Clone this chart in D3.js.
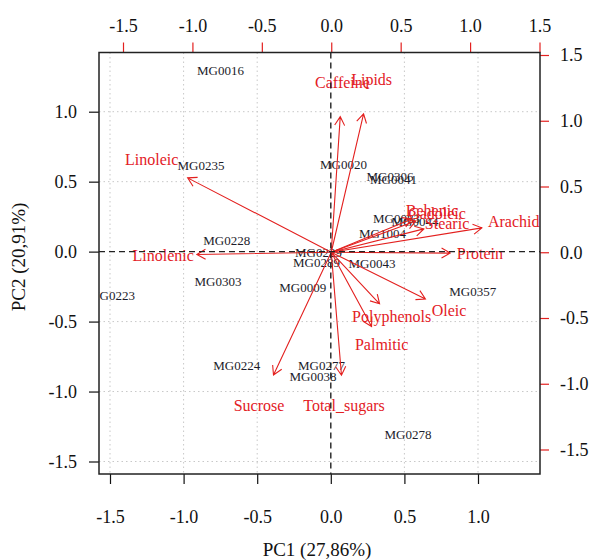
<!DOCTYPE html>
<html>
<head>
<meta charset="utf-8">
<script src="https://cdn.jsdelivr.net/npm/d3@7"></script>
<style>
  body { margin: 0; background: #fff; }
  svg text { font-family: "Liberation Serif", "DejaVu Serif", serif; }
</style>
</head>
<body>
<div id="chart"></div>
<script>
// scores (observations) - bottom / left axes
var obsNames = ["MG0016", "MG0235", "MG0020", "MG0306", "MG0041", "MG0083", "MG0044", "MG1004",
  "MG0228", "MG0229", "MG0289", "MG0043", "MG0303", "MG0009", "MG0223", "MG0357",
  "MG0224", "MG0277", "MG0038", "MG0278"];
var obsPC1 = [-0.749, -0.882, 0.086, 0.402, 0.426, 0.446, 0.572, 0.351,
  -0.707, -0.084, -0.097, 0.280, -0.766, -0.191, -1.490, 0.964,
  -0.639, -0.063, -0.121, 0.524];
var obsPC2 = [1.291, 0.619, 0.623, 0.537, 0.515, 0.240, 0.212, 0.131,
  0.083, -0.006, -0.079, -0.085, -0.215, -0.260, -0.317, -0.287,
  -0.816, -0.814, -0.889, -1.304];

// loadings (variables) - top / right axes
var varNames = ["Caffeine", "Lipids", "Linoleic", "Linolenic", "Behenic", "Gadoleic", "Stearic",
  "Arachidic", "Protein", "Oleic", "Polyphenols", "Palmitic", "Total_sugars", "Sucrose"];
var varPC1 = [0.081, 0.291, -1.293, -1.210, 0.726, 0.762, 0.834,
  1.356, 1.071, 0.848, 0.435, 0.363, 0.092, -0.520];
var varPC2 = [1.289, 1.315, 0.707, -0.021, 0.317, 0.298, 0.222,
  0.232, -0.008, -0.444, -0.490, -0.705, -1.169, -1.167];

var obsTicks = [-1.5, -1.0, -0.5, 0.0, 0.5, 1.0];
var varTicks = [-1.5, -1.0, -0.5, 0.0, 0.5, 1.0, 1.5];
var xTitle = "PC1 (27,86%)";
var yTitle = "PC2 (20,91%)";

var W = 591, H = 560;
var box = { left: 99, right: 540, top: 52.5, bottom: 474 };
var red = "#e3201f";

var xObs = d3.scaleLinear().domain([-1.5, 1.0]).range([110, 478]);
var yObs = d3.scaleLinear().domain([-1.5, 1.0]).range([461.5, 111.7]);
var xVar = d3.scaleLinear().domain([-1.5, 1.5]).range([123, 539.5]);
var yVar = d3.scaleLinear().domain([-1.5, 1.5]).range([449.5, 55]);

var fmt = function (d) { return d.toFixed(1); };

var svg = d3.select("#chart").append("svg")
  .attr("width", W).attr("height", H);

svg.append("defs").append("clipPath").attr("id", "plotClip")
  .append("rect")
  .attr("x", box.left).attr("y", box.top)
  .attr("width", box.right - box.left).attr("height", box.bottom - box.top);

// grid
var grid = svg.append("g").attr("stroke", "#c8c8c8").attr("stroke-dasharray", "1.5,3").attr("stroke-width", 1);
obsTicks.forEach(function (t) {
  if (t === 0) return;
  grid.append("line").attr("x1", xObs(t)).attr("x2", xObs(t)).attr("y1", box.top).attr("y2", box.bottom);
  grid.append("line").attr("x1", box.left).attr("x2", box.right).attr("y1", yObs(t)).attr("y2", yObs(t));
});

// axes
var styleAxis = function (g, color) {
  g.select(".domain").remove();
  g.selectAll(".tick line").attr("stroke", color).attr("stroke-width", 1.2);
  g.selectAll(".tick text").attr("fill", "#111").style("font-size", "18px")
    .style("font-family", "'Liberation Serif', serif");
};

svg.append("g").attr("transform", "translate(0," + box.bottom + ")")
  .call(d3.axisBottom(xObs).tickValues(obsTicks).tickFormat(fmt).tickSize(10).tickPadding(26))
  .call(function (g) { styleAxis(g, "#111"); });

svg.append("g").attr("transform", "translate(" + box.left + ",0)")
  .call(d3.axisLeft(yObs).tickValues(obsTicks).tickFormat(fmt).tickSize(10).tickPadding(12))
  .call(function (g) { styleAxis(g, "#111"); });

svg.append("g").attr("transform", "translate(0," + box.top + ")")
  .call(d3.axisTop(xVar).tickValues(varTicks).tickFormat(fmt).tickSize(10).tickPadding(11))
  .call(function (g) { styleAxis(g, red); });

svg.append("g").attr("transform", "translate(" + box.right + ",0)")
  .call(d3.axisRight(yVar).tickValues(varTicks).tickFormat(fmt).tickSize(9).tickPadding(11))
  .call(function (g) { styleAxis(g, red); });

// axis titles
svg.append("text").attr("x", 317).attr("y", 549).attr("text-anchor", "middle")
  .attr("dominant-baseline", "central").style("font-size", "19px").attr("fill", "#111").text(xTitle);
svg.append("text").attr("transform", "translate(18,257) rotate(-90)").attr("text-anchor", "middle")
  .attr("dominant-baseline", "central").style("font-size", "19px").attr("fill", "#111").text(yTitle);

var plot = svg.append("g").attr("clip-path", "url(#plotClip)");

// observation labels
obsNames.forEach(function (name, i) {
  plot.append("text")
    .attr("x", xObs(obsPC1[i])).attr("y", yObs(obsPC2[i]))
    .attr("text-anchor", "middle").attr("dominant-baseline", "central")
    .style("font-size", "13px").attr("fill", "#1c1c2a")
    .text(name);
});

// loading arrows (drawn to 0.8 of the loading, label at the loading)
var x0 = xVar(0), y0 = yVar(0);
var headLen = 10, headAng = Math.PI / 6;
varNames.forEach(function (name, i) {
  var x1 = xVar(varPC1[i] * 0.8), y1 = yVar(varPC2[i] * 0.8);
  var a = Math.atan2(y1 - y0, x1 - x0);
  var p = "M" + x0 + "," + y0 + "L" + x1 + "," + y1 +
    "M" + (x1 - headLen * Math.cos(a - headAng)) + "," + (y1 - headLen * Math.sin(a - headAng)) +
    "L" + x1 + "," + y1 +
    "L" + (x1 - headLen * Math.cos(a + headAng)) + "," + (y1 - headLen * Math.sin(a + headAng));
  plot.append("path").attr("d", p).attr("stroke", red).attr("stroke-width", 1.1).attr("fill", "none");
});
varNames.forEach(function (name, i) {
  plot.append("text")
    .attr("x", xVar(varPC1[i])).attr("y", yVar(varPC2[i]))
    .attr("text-anchor", "middle").attr("dominant-baseline", "central")
    .style("font-size", "16px").attr("fill", red)
    .text(name);
});

// zero lines
plot.append("line").attr("x1", box.left).attr("x2", box.right).attr("y1", yObs(0)).attr("y2", yObs(0))
  .attr("stroke", "#222").attr("stroke-width", 1.4).attr("stroke-dasharray", "6,4");
plot.append("line").attr("x1", xObs(0)).attr("x2", xObs(0)).attr("y1", box.top).attr("y2", box.bottom)
  .attr("stroke", "#222").attr("stroke-width", 1.4).attr("stroke-dasharray", "6,4");

// frame
svg.append("rect").attr("x", box.left).attr("y", box.top)
  .attr("width", box.right - box.left).attr("height", box.bottom - box.top)
  .attr("fill", "none").attr("stroke", "#222").attr("stroke-width", 1.5);
</script>
</body>
</html>
